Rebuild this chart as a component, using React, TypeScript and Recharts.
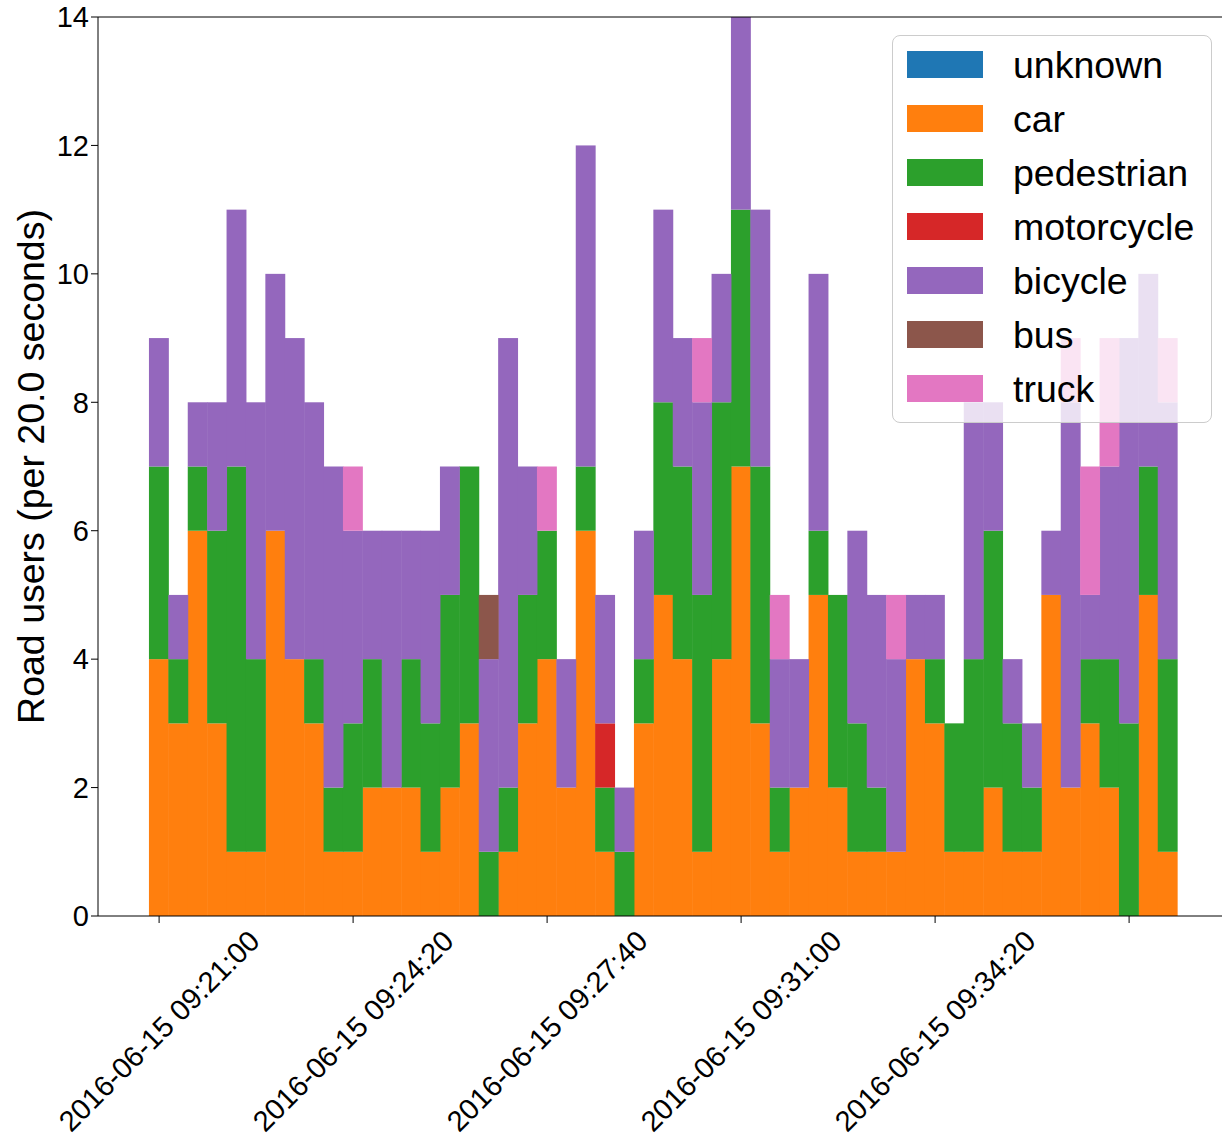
import React from 'react'
import { Bar, BarChart, Legend, ReferenceLine, XAxis, YAxis } from 'recharts'

// road users per 20 s bin, one entry per bin (53 bins)
const UNKNOWN = [
  0, 0, 0, 0, 0, 0, 0, 0, 0, 0, 0, 0, 0, 0, 0, 0, 0, 0, 0, 0, 0, 0, 0, 0, 0, 0, 0,
  0, 0, 0, 0, 0, 0, 0, 0, 0, 0, 0, 0, 0, 0, 0, 0, 0, 0, 0, 0, 0, 0, 0, 0, 0, 0,
]
const CAR = [
  4, 3, 6, 3, 1, 1, 6, 4, 3, 1, 1, 2, 2, 2, 1, 2, 3, 0, 1, 3, 4, 2, 6, 1, 0, 3, 5,
  4, 1, 4, 7, 3, 1, 2, 5, 2, 1, 1, 1, 4, 3, 1, 1, 2, 1, 1, 5, 2, 3, 2, 0, 5, 1,
]
const PEDESTRIAN = [
  3, 1, 1, 3, 6, 3, 0, 0, 1, 1, 2, 2, 0, 2, 2, 3, 4, 1, 1, 2, 2, 0, 1, 1, 1, 1, 3,
  3, 4, 4, 4, 4, 1, 0, 1, 3, 2, 1, 0, 0, 1, 2, 3, 4, 2, 1, 0, 0, 1, 2, 3, 2, 3,
]
const MOTORCYCLE = [
  0, 0, 0, 0, 0, 0, 0, 0, 0, 0, 0, 0, 0, 0, 0, 0, 0, 0, 0, 0, 0, 0, 0, 1, 0, 0, 0,
  0, 0, 0, 0, 0, 0, 0, 0, 0, 0, 0, 0, 0, 0, 0, 0, 0, 0, 0, 0, 0, 0, 0, 0, 0, 0,
]
const BICYCLE = [
  2, 1, 1, 2, 4, 4, 4, 5, 4, 5, 3, 2, 4, 2, 3, 2, 0, 3, 7, 2, 0, 2, 5, 2, 1, 2, 3,
  2, 3, 2, 3, 4, 2, 2, 4, 0, 3, 3, 3, 1, 1, 0, 4, 2, 1, 1, 1, 6, 1, 3, 6, 3, 4,
]
const BUS = [
  0, 0, 0, 0, 0, 0, 0, 0, 0, 0, 0, 0, 0, 0, 0, 0, 0, 1, 0, 0, 0, 0, 0, 0, 0, 0, 0,
  0, 0, 0, 0, 0, 0, 0, 0, 0, 0, 0, 0, 0, 0, 0, 0, 0, 0, 0, 0, 0, 0, 0, 0, 0, 0,
]
const TRUCK = [
  0, 0, 0, 0, 0, 0, 0, 0, 0, 0, 1, 0, 0, 0, 0, 0, 0, 0, 0, 0, 1, 0, 0, 0, 0, 0, 0,
  0, 1, 0, 0, 0, 1, 0, 0, 0, 0, 0, 1, 0, 0, 0, 0, 0, 0, 0, 0, 1, 2, 2, 0, 0, 1,
]

// one label every 10 bins (200 s); the last tick has no label in the original
const TICK_EVERY = 10
const TICK_LABELS = [
  '2016-06-15 09:21:00',
  '2016-06-15 09:24:20',
  '2016-06-15 09:27:40',
  '2016-06-15 09:31:00',
  '2016-06-15 09:34:20',
  '',
]
const Y_TICKS = [0, 2, 4, 6, 8, 10, 12, 14]

const SERIES = [
  { key: 'unknown', values: UNKNOWN, color: '#1f77b4' },
  { key: 'car', values: CAR, color: '#ff7f0e' },
  { key: 'pedestrian', values: PEDESTRIAN, color: '#2ca02c' },
  { key: 'motorcycle', values: MOTORCYCLE, color: '#d62728' },
  { key: 'bicycle', values: BICYCLE, color: '#9467bd' },
  { key: 'bus', values: BUS, color: '#8c564b' },
  { key: 'truck', values: TRUCK, color: '#e377c2' },
]

const data = CAR.map((_, i) => {
  const row: Record<string, number> = { bin: i }
  SERIES.forEach((s) => {
    row[s.key] = s.values[i]
  })
  return row
})

const FONT = '"Liberation Sans", Arial, Helvetica, sans-serif'
const CHART_W = 1240
const CHART_H = 1138
const PLOT_LEFT = 98
const PLOT_RIGHT = 1229
const X_PAD = 51.4
const BAND = (PLOT_RIGHT - PLOT_LEFT - 2 * X_PAD) / data.length

// histogram bins touch each other: draw each segment over the full bin width
function BinRect(props: any) {
  const { x, y, width, height, fill } = props
  if (!height || height <= 0) return null
  const cx = x + width / 2
  const w = BAND + 0.5
  return <rect x={cx - w / 2} y={y} width={w} height={height} fill={fill} />
}

function DateTick({ x, y, payload }: any) {
  const label = TICK_LABELS[Math.round(payload.value / TICK_EVERY)] ?? ''
  const cy = y + 106
  return (
    <text
      x={x}
      y={cy}
      textAnchor="middle"
      dominantBaseline="central"
      transform={`rotate(-45 ${x} ${cy})`}
      fontSize={29}
      fontFamily={FONT}
      fill="#000"
    >
      {label}
    </text>
  )
}

function YLabel({ viewBox }: any) {
  const x = (viewBox?.x ?? 0) + 31
  const y = (viewBox?.y ?? 17) + (viewBox?.height ?? 899) / 2
  return (
    <text
      x={x}
      y={y}
      textAnchor="middle"
      dominantBaseline="central"
      transform={`rotate(-90 ${x} ${y})`}
      fontSize={37.5}
      fontFamily={FONT}
      fill="#000"
    >
      Road users (per 20.0 seconds)
    </text>
  )
}

function LegendBox() {
  return (
    <div
      style={{
        width: 320,
        height: 388,
        boxSizing: 'border-box',
        border: '1.5px solid #cccccc',
        borderRadius: 8,
        backgroundColor: 'rgba(255,255,255,0.8)',
        paddingTop: 2,
        fontFamily: FONT,
      }}
    >
      {SERIES.map((s) => (
        <div key={s.key} style={{ display: 'flex', alignItems: 'center', height: 53.9 }}>
          <div style={{ width: 76, height: 27, marginLeft: 14, backgroundColor: s.color }} />
          <span
            style={{
              marginLeft: 30,
              fontSize: 37.5,
              color: '#000',
              lineHeight: 1,
              position: 'relative',
              top: 1,
            }}
          >
            {s.key}
          </span>
        </div>
      ))}
    </div>
  )
}

export default function App() {
  return (
    <div
      style={{
        position: 'absolute',
        left: 0,
        top: 0,
        width: 1222,
        height: 1138,
        overflow: 'hidden',
        backgroundColor: '#fff',
      }}
    >
      <BarChart
        width={CHART_W}
        height={CHART_H}
        data={data}
        margin={{ top: 17, right: CHART_W - PLOT_RIGHT, bottom: 0, left: 0 }}
        barCategoryGap={0}
        barGap={0}
      >
        <XAxis
          dataKey="bin"
          height={222}
          padding={{ left: X_PAD, right: X_PAD }}
          interval={TICK_EVERY - 1}
          tick={<DateTick />}
          tickSize={7}
          axisLine={{ stroke: '#000', strokeWidth: 1 }}
          tickLine={{ stroke: '#000', strokeWidth: 1 }}
        />
        <YAxis
          width={PLOT_LEFT}
          domain={[0, 14]}
          ticks={Y_TICKS}
          interval={0}
          tickSize={7}
          tick={{ fontSize: 29, fill: '#000', fontFamily: FONT }}
          axisLine={{ stroke: '#000', strokeWidth: 1 }}
          tickLine={{ stroke: '#000', strokeWidth: 1 }}
          label={<YLabel />}
        />
        {SERIES.map((s) => (
          <Bar
            key={s.key}
            dataKey={s.key}
            stackId="a"
            fill={s.color}
            shape={<BinRect />}
            isAnimationActive={false}
          />
        ))}
        <ReferenceLine y={14} stroke="#000" strokeWidth={1} />
        <Legend
          layout="vertical"
          align="center"
          verticalAlign="middle"
          content={<LegendBox />}
          wrapperStyle={{ left: 892, top: 35, width: 320, height: 388 }}
        />
      </BarChart>
    </div>
  )
}
